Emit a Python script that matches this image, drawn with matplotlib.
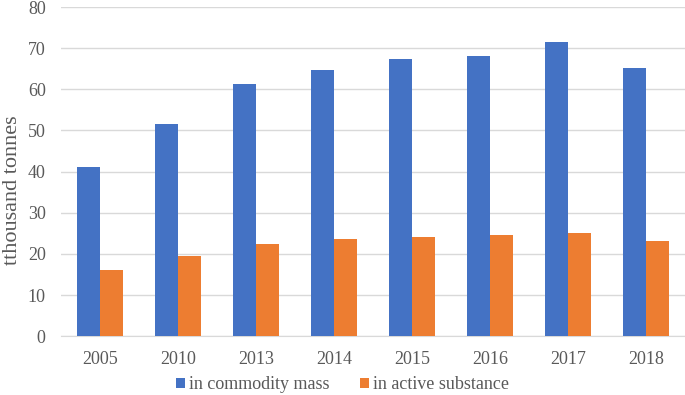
import matplotlib
matplotlib.use("Agg")
import matplotlib.pyplot as plt
import numpy as np

years = ["2005", "2010", "2013", "2014", "2015", "2016", "2017", "2018"]
commodity_mass = [41.1, 51.7, 61.2, 64.8, 67.4, 68.2, 71.5, 65.3]
active_substance = [16.0, 19.5, 22.3, 23.5, 24.0, 24.5, 25.1, 23.2]
y_ticks = [0, 10, 20, 30, 40, 50, 60, 70, 80]

plt.rcParams['font.family'] = 'serif'
plt.rcParams['font.serif'] = ['Liberation Serif', 'DejaVu Serif']

fig = plt.figure(figsize=(6.85, 3.95), dpi=100)
ax = fig.add_axes([0.089, 0.149, 0.911, 0.833])

x = np.arange(len(years))
w = 0.29
ax.bar(x - w/2, commodity_mass, width=w, color='#4472C4', label='in commodity mass', zorder=3)
ax.bar(x + w/2, active_substance, width=w, color='#ED7D31', label='in active substance', zorder=3)

ax.set_xlim(-0.5, len(years) - 0.5)
ax.set_ylim(0, 80)
ax.set_yticks(y_ticks)
ax.set_xticks(x)
ax.set_xticklabels(years)
ax.tick_params(axis='both', length=0, labelsize=13, colors='#595959')
ax.tick_params(axis='y', pad=11)
ax.tick_params(axis='x', pad=11)
ax.grid(axis='y', color='#d9d9d9', linewidth=1, zorder=0)
for s in ['top', 'right', 'left']:
    ax.spines[s].set_visible(False)
ax.spines['bottom'].set_color('#d9d9d9')
fig.text(12.5 / 685, 1 - 190 / 395, 'tthousand tonnes', rotation=90, fontsize=16,
         color='#595959', ha='center', va='center')

leg = fig.legend(loc='center', bbox_to_anchor=(0.50, 0.026), ncol=2, frameon=False,
                 fontsize=13, handlelength=0.5, handleheight=0.5, handletextpad=0.2,
                 columnspacing=1.7)
for t in leg.get_texts():
    t.set_color('#595959')

fig.savefig('out.png', dpi=100)
